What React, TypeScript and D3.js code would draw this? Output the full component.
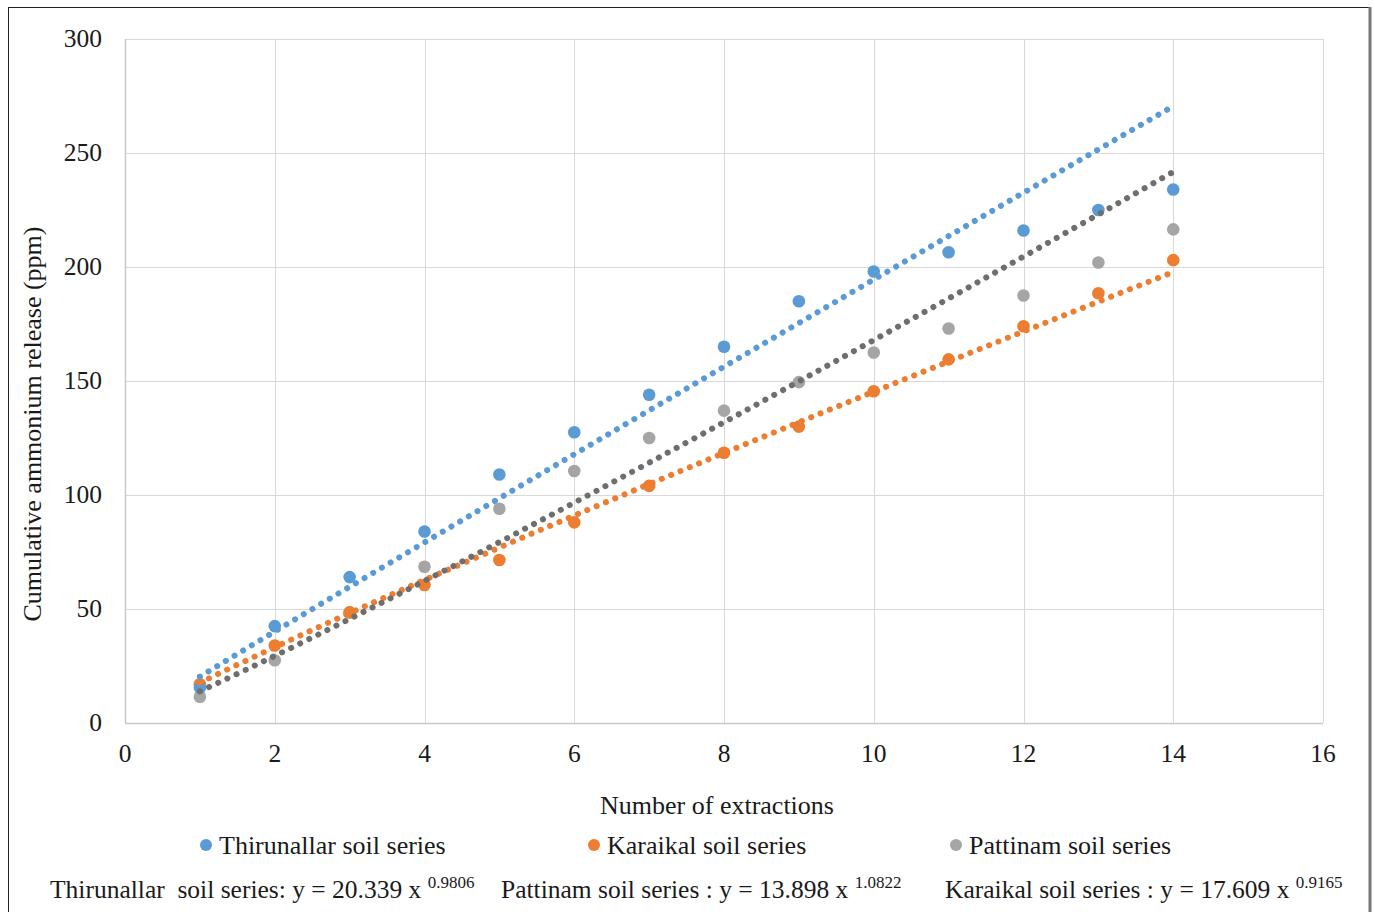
import React from 'react';
import * as d3 from 'd3';

// extraction numbers
const extractions = [1, 2, 3, 4, 5, 6, 7, 8, 9, 10, 11, 12, 13, 14];

// cumulative ammonium release (ppm)
const thirunallar = [15.5, 42.5, 64, 84, 109, 127.5, 144, 165, 185, 198, 206.5, 216, 225, 234];
const karaikal = [17, 34, 48.5, 60.5, 71.5, 88, 104, 118.5, 130, 145.5, 159.5, 174, 188.5, 203];
const pattinam = [11.5, 27.5, 48.5, 68.5, 94, 110.5, 125, 137, 149.5, 162.5, 173, 187.5, 202, 216.5];

// power trendline coefficients as printed under the chart (y = a x^b)
const trendA = [20.339, 13.898, 17.609];
const trendB = [0.9806, 1.0822, 0.9165];

const xTicks = [0, 2, 4, 6, 8, 10, 12, 14, 16];
const yTicks = [0, 50, 100, 150, 200, 250, 300];

const colors = {
  blue: '#5b9bd5',
  orange: '#ed7d31',
  gray: '#a5a5a5',
  trendGray: '#6e6e6e',
  grid: '#d9d9d9',
  text: '#1a1a1a',
};

const FONT = '"Liberation Serif", "Times New Roman", serif';

const W = 1375, H = 912;
const margin = { left: 125, right: 52, top: 39, bottom: 189 };

export default function App() {
  const xScale = d3.scaleLinear().domain([0, 16]).range([margin.left, W - margin.right]);
  const yScale = d3.scaleLinear().domain([0, 300]).range([H - margin.bottom, margin.top]);

  const series = [
    { name: 'Thirunallar soil series', values: thirunallar, color: colors.blue, trend: colors.blue, a: trendA[0], b: trendB[0] },
    { name: 'Karaikal soil series', values: karaikal, color: colors.orange, trend: colors.orange, a: trendA[2], b: trendB[2] },
    { name: 'Pattinam soil series', values: pattinam, color: colors.gray, trend: colors.trendGray, a: trendA[1], b: trendB[1] },
  ];

  // trendline path: evaluate the printed equation across the extraction range
  const trendPath = (a: number, b: number) => {
    const xs = d3.range(1, 14.001, 0.05);
    return d3.line<number>()
      .x(d => xScale(d))
      .y(d => yScale(a * Math.pow(d, b)))(xs);
  };

  const x0 = xScale(0), x1 = xScale(16), y0 = yScale(0), y1 = yScale(300);

  return (
    <div style={{ position: 'absolute', left: 0, top: 0 }}>
      <svg width={W} height={H} style={{ display: 'block', fontFamily: FONT }}>
        <rect x={0} y={0} width={W} height={H} fill="#fff" />
        {/* outer frame */}
        <line x1={8.5} y1={7.5} x2={8.5} y2={H} stroke="#222" strokeWidth={1} />
        <line x1={8} y1={7.5} x2={1370} y2={7.5} stroke="#222" strokeWidth={1} />
        <line x1={1370} y1={7} x2={1370} y2={H} stroke="#777" strokeWidth={3} />

        {/* grid */}
        {yTicks.map(t => (
          <line key={'gy' + t} x1={x0} x2={x1} y1={Math.round(yScale(t)) + 0.5} y2={Math.round(yScale(t)) + 0.5}
            stroke={colors.grid} strokeWidth={1} />
        ))}
        {xTicks.map(t => (
          <line key={'gx' + t} x1={Math.round(xScale(t)) + 0.5} x2={Math.round(xScale(t)) + 0.5} y1={y1} y2={y0}
            stroke={colors.grid} strokeWidth={1} />
        ))}
        <line x1={x0} x2={x1} y1={Math.round(y0) + 0.5} y2={Math.round(y0) + 0.5} stroke="#c8c8c8" strokeWidth={1.5} />
        <line x1={Math.round(x0) + 0.5} x2={Math.round(x0) + 0.5} y1={y1} y2={y0} stroke="#c8c8c8" strokeWidth={1.5} />

        {/* tick labels */}
        {yTicks.map(t => (
          <text key={'ty' + t} x={102} y={yScale(t)} dy="0.33em" textAnchor="end" fontSize={25.5} fill={colors.text}>{t}</text>
        ))}
        {xTicks.map(t => (
          <text key={'tx' + t} x={xScale(t)} y={754} dy="0.33em" textAnchor="middle" fontSize={25.5} fill={colors.text}>{t}</text>
        ))}

        {/* axis titles */}
        <text x={717} y={805} dy="0.33em" textAnchor="middle" fontSize={26} fill={colors.text}>Number of extractions</text>
        <text transform={`translate(32, ${(y0 + y1) / 2 + 43}) rotate(-90)`} dy="0.33em" textAnchor="middle" fontSize={26} fill={colors.text}>
          Cumulative ammonium release (ppm)
        </text>

        {/* scatter points */}
        {[series[2], series[1], series[0]].map(s => (
          <g key={'pts' + s.name}>
            {s.values.map((v, i) => (
              <circle key={i} cx={xScale(extractions[i])} cy={yScale(v)} r={6.3} fill={s.color} />
            ))}
          </g>
        ))}

        {/* dotted power trendlines */}
        {series.map(s => (
          <path key={'tr' + s.name} d={trendPath(s.a, s.b) || ''} fill="none" stroke={s.trend}
            strokeWidth={6} strokeLinecap="round" strokeDasharray="0.1 10" />
        ))}

        {/* legend */}
        {[
          { s: series[0], x: 206 },
          { s: series[1], x: 594 },
          { s: series[2], x: 956 },
        ].map(({ s, x }) => (
          <g key={'lg' + s.name}>
            <circle cx={x} cy={845} r={6} fill={s.color} />
            <text x={x + 13} y={845} dy="0.33em" fontSize={26} fill={colors.text}>{s.name}</text>
          </g>
        ))}

        {/* equations */}
        <text x={50} y={890} dy="0.33em" fontSize={25.5} fill={colors.text} style={{ whiteSpace: 'pre' }}>
          {`Thirunallar  soil series: y = ${trendA[0]} x `}
          <tspan fontSize={17} dy="-10">{trendB[0]}</tspan>
        </text>
        <text x={501} y={890} dy="0.33em" fontSize={25.5} fill={colors.text}>
          {`Pattinam soil series : y = ${trendA[1]} x `}
          <tspan fontSize={17} dy="-10">{trendB[1]}</tspan>
        </text>
        <text x={945} y={890} dy="0.33em" fontSize={25.5} fill={colors.text}>
          {`Karaikal soil series : y = ${trendA[2]} x `}
          <tspan fontSize={17} dy="-10">{trendB[2]}</tspan>
        </text>
      </svg>
    </div>
  );
}
